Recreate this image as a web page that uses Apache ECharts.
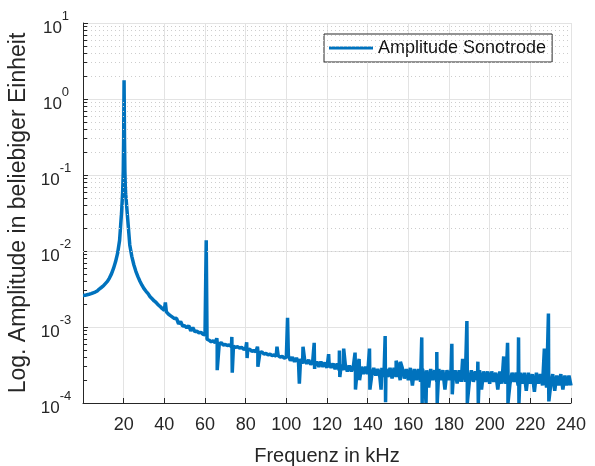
<!DOCTYPE html>
<html>
<head>
<meta charset="utf-8">
<script src="https://cdn.jsdelivr.net/npm/echarts@6/dist/echarts.min.js"></script>
<style>
  html, body { margin: 0; padding: 0; background: #fff; }
  #chart { width: 595px; height: 466px; }
</style>
</head>
<body>
<div id="chart"></div>
<script>
// Frequenzgitter in kHz (Schrittweite der Grundkurve)
const freqStepKHz = 1;

// Amplitude der Grundkurve, ein Wert je kHz (0 ... 240 kHz)
const baseAmp = [
  2.60e-3, 2.61e-3, 2.66e-3, 2.70e-3, 2.75e-3, 2.82e-3, 2.88e-3, 2.98e-3, 3.16e-3, 3.31e-3,   // 0
  3.47e-3, 3.72e-3, 3.98e-3, 4.40e-3, 5.0e-3, 5.9e-3, 7.2e-3, 9.3e-3, 1.38e-2, 3.31e-2,      // 10
  3.2e-1, 5.6e-2, 2.6e-2, 1.2e-2, 8.5e-3, 6.6e-3, 5.4e-3, 4.6e-3, 4.0e-3, 3.55e-3,            // 20
  3.2e-3, 2.95e-3, 2.75e-3, 2.5e-3, 2.35e-3, 2.2e-3, 2.1e-3, 1.95e-3, 1.86e-3, 1.74e-3,       // 30
  1.66e-3, 1.58e-3, 1.48e-3, 1.41e-3, 1.35e-3, 1.29e-3, 1.30e-3, 1.10e-3, 1.18e-3, 1.03e-3,   // 40
  1.04e-3, 9.8e-4, 1.04e-3, 8.9e-4, 9.8e-4, 8.7e-4, 8.8e-4, 8.4e-4, 8.5e-4, 8.0e-4,          // 50
  7.9e-4, 6.9e-4, 6.7e-4, 6.4e-4, 6.6e-4, 6.2e-4, 6.3e-4, 6.0e-4, 6.2e-4, 5.8e-4,            // 60
  5.9e-4, 5.7e-4, 5.8e-4, 5.5e-4, 5.6e-4, 5.4e-4, 5.5e-4, 5.3e-4, 5.4e-4, 5.1e-4,            // 70
  5.2e-4, 5.0e-4, 5.1e-4, 4.8e-4, 4.9e-4, 4.7e-4, 4.8e-4, 4.6e-4, 4.7e-4, 4.4e-4,            // 80
  4.5e-4, 4.3e-4, 4.4e-4, 4.2e-4, 4.3e-4, 4.1e-4, 4.2e-4, 4.0e-4, 4.1e-4, 3.9e-4,            // 90
  4.0e-4, 4.2e-4, 3.6e-4, 4.0e-4, 3.5e-4, 3.9e-4, 3.4e-4, 3.8e-4, 3.3e-4, 3.7e-4,            // 100
  3.3e-4, 3.7e-4, 3.2e-4, 3.6e-4, 3.1e-4, 3.5e-4, 3.0e-4, 3.5e-4, 3.0e-4, 3.4e-4,            // 110
  2.9e-4, 3.4e-4, 2.9e-4, 3.3e-4, 2.8e-4, 3.3e-4, 2.7e-4, 3.2e-4, 2.7e-4, 3.2e-4,            // 120
  2.6e-4, 3.1e-4, 2.6e-4, 3.1e-4, 2.5e-4, 3.0e-4, 2.5e-4, 3.0e-4, 2.4e-4, 3.0e-4,            // 130
  2.4e-4, 2.9e-4, 2.3e-4, 2.9e-4, 2.3e-4, 2.8e-4, 2.2e-4, 2.9e-4, 2.2e-4, 2.8e-4,            // 140
  2.2e-4, 2.9e-4, 2.1e-4, 2.9e-4, 2.2e-4, 2.8e-4, 2.0e-4, 2.9e-4, 2.1e-4, 2.8e-4,            // 150
  2.0e-4, 2.9e-4, 1.7e-4, 2.8e-4, 2.0e-4, 2.8e-4, 1.9e-4, 2.8e-4, 2.0e-4, 2.7e-4,            // 160
  1.6e-4, 2.8e-4, 2.0e-4, 2.7e-4, 1.9e-4, 2.8e-4, 2.0e-4, 2.7e-4, 1.5e-4, 2.7e-4,            // 170
  2.0e-4, 2.7e-4, 2.0e-4, 2.7e-4, 1.8e-4, 2.7e-4, 1.9e-4, 2.8e-4, 1.9e-4, 2.6e-4,            // 180
  1.9e-4, 2.7e-4, 1.9e-4, 2.6e-4, 2.0e-4, 2.7e-4, 1.5e-4, 2.6e-4, 1.9e-4, 2.6e-4,            // 190
  1.8e-4, 2.6e-4, 1.9e-4, 2.5e-4, 1.5e-4, 2.6e-4, 1.8e-4, 2.5e-4, 1.8e-4, 2.6e-4,            // 200
  1.8e-4, 2.5e-4, 1.9e-4, 2.5e-4, 1.7e-4, 2.5e-4, 1.8e-4, 2.5e-4, 1.45e-4, 2.5e-4,           // 210
  1.8e-4, 2.4e-4, 1.4e-4, 2.5e-4, 1.8e-4, 2.4e-4, 1.7e-4, 2.4e-4, 1.6e-4, 2.4e-4,            // 220
  1.7e-4, 2.4e-4, 1.45e-4, 2.3e-4, 1.7e-4, 2.4e-4, 1.5e-4, 2.3e-4, 1.7e-4, 2.3e-4,           // 230
  1.7e-4                                                                                      // 240
];

// Resonanzspitze bei ca. 20,2 kHz
const peakKHz = [19.5, 19.8, 20.2, 20.4, 20.6, 20.8];
const peakAmp = [6.0e-2, 1.12e-1, 1.76, 3.2e-1, 1.12e-1, 7.1e-2];

// Einzelne Spitzen (Harmonische und Störlinien), nach oben und unten
const spikeKHz = [
  40.5, 60.6, 65.8, 66.0, 73.2, 73.4, 80.5, 80.7, 85.8, 86.0,
  95.4, 100.6, 106.4, 108.2, 113.7, 113.9, 120.8, 126.1, 126.3, 128.2,
  133.8, 134.0, 135.8, 136.0, 140.9, 141.1, 146.6, 148.6, 148.8, 154.0,
  156.1, 166.6, 166.8, 168.7, 174.0, 174.2, 181.4, 181.6, 186.7, 188.8,
  189.0, 194.2, 194.4, 206.9, 208.8, 209.0, 214.2, 214.4, 226.9, 228.9,
  229.1
];
const spikeAmp = [
  2.1e-3, 1.38e-2, 7.1e-4, 2.7e-4, 7.4e-4, 2.5e-4, 6.3e-4, 3.9e-4, 5.5e-4, 3.0e-4,
  5.5e-4, 1.32e-3, 1.8e-4, 5.5e-4, 6.2e-4, 2.8e-4, 4.4e-4, 4.9e-4, 2.2e-4, 5.2e-4,
  4.6e-4, 1.5e-4, 3.8e-4, 2.0e-4, 5.2e-4, 1.5e-4, 1.5e-4, 7.6e-4, 1.02e-4, 3.6e-4,
  3.5e-4, 7.3e-4, 1.0e-4, 1.0e-4, 4.7e-4, 1.0e-4, 6.0e-4, 1.3e-4, 3.8e-4, 1.2e-3,
  1.0e-4, 3.5e-4, 1.0e-4, 4.1e-4, 6.2e-4, 1.0e-4, 7.3e-4, 1.0e-4, 5.2e-4, 1.5e-3,
  1.05e-4
];

// Achsen
const xTicks = [0, 240, 20];          // min, max, Abstand in kHz
const yRange = [1e-4, 1e1];
const minorFactors = [2, 3, 4, 5, 6, 7, 8, 9];

const seriesName = 'Amplitude Sonotrode';
const blue = '#0072BD';
const axisColor = '#262626';
const font = '"Liberation Sans", Arial, Helvetica, sans-serif';

// Kurve zusammensetzen und nach Frequenz sortieren
const points = baseAmp.map((a, i) => [i * freqStepKHz, a]);
peakKHz.forEach((f, i) => points.push([f, peakAmp[i]]));
spikeKHz.forEach((f, i) => points.push([f, spikeAmp[i]]));
points.sort((p, q) => p[0] - q[0]);

// Nebengitter bei 2..9 x 10^n
const minorValues = [];
for (let d = Math.round(Math.log10(yRange[0])); d < Math.round(Math.log10(yRange[1])); d++) {
  minorFactors.forEach(k => minorValues.push(k * Math.pow(10, d)));
}

var myChart = echarts.init(document.getElementById('chart'));

myChart.setOption({
  animation: false,
  backgroundColor: '#fff',
  grid: {
    left: 83,
    right: 24,
    top: 23,
    bottom: 63,
    outerBoundsMode: 'none',
  },
  legend: {
    data: [{ name: seriesName, icon: 'rect' }],
    left: 324,
    top: 34,
    orient: 'vertical',
    padding: [5, 6, 5, 5],
    itemWidth: 44,
    itemHeight: 3,
    backgroundColor: '#fff',
    borderColor: axisColor,
    borderWidth: 1,
    borderRadius: 0,
    textStyle: {
      fontFamily: font,
      fontSize: 18,
      color: '#111',
    },
  },
  xAxis: {
    type: 'value',
    min: xTicks[0],
    max: xTicks[1],
    interval: xTicks[2],
    name: 'Frequenz in kHz',
    nameLocation: 'middle',
    nameGap: 43,
    nameTextStyle: { fontFamily: font, fontSize: 20, color: axisColor },
    axisLine: { lineStyle: { color: axisColor, width: 1 } },
    axisTick: { inside: true, length: 5, lineStyle: { color: axisColor } },
    axisLabel: {
      showMinLabel: false,
      margin: 13,
      fontFamily: font,
      fontSize: 18,
      color: axisColor,
    },
    splitLine: { show: true, lineStyle: { color: '#e3e3e3', width: 1 } },
  },
  yAxis: {
    type: 'log',
    logBase: 10,
    min: yRange[0],
    max: yRange[1],
    name: 'Log. Amplitude in beliebiger Einheit',
    nameLocation: 'middle',
    nameRotate: 90,
    nameGap: 53,
    nameTextStyle: { fontFamily: font, fontSize: 23, color: axisColor },
    axisLine: { show: true, lineStyle: { color: axisColor, width: 1 } },
    axisTick: { inside: true, length: 5, lineStyle: { color: axisColor } },
    axisLabel: {
      margin: 27,
      align: 'center',
      formatter: function (v) {
        const e = Math.round(Math.log10(v));
        return '{b|10}{e|' + e + '}';
      },
      rich: {
        b: { fontFamily: font, fontSize: 17, color: axisColor, padding: [10, 0, 0, 0] },
        e: { fontFamily: font, fontSize: 13, color: axisColor, verticalAlign: 'top' },
      },
    },
    splitLine: { show: true, lineStyle: { color: '#e3e3e3', width: 1 } },
  },
  series: [
    {
      // nur Hilfslinien: Nebengitter und Nebenstriche
      type: 'line',
      name: 'minor',
      data: [],
      silent: true,
      z: 1,
      markLine: {
        silent: true,
        symbol: ['none', 'none'],
        label: { show: false },
        animation: false,
        data: minorValues.map(v => ({
          yAxis: v,
          lineStyle: { type: [1, 3], color: '#cdcdcd', width: 1 },
        })).concat(minorValues.map(v => [
          { coord: [xTicks[0], v], lineStyle: { type: 'solid', color: axisColor, width: 1 } },
          { coord: [xTicks[0] + 2, v] },
        ])),
      },
    },
    {
      type: 'line',
      name: seriesName,
      data: points,
      z: 3,
      showSymbol: false,
      symbol: 'none',
      color: blue,
      lineStyle: { color: blue, width: 3.5 },
    },
  ],
});
</script>
</body>
</html>
